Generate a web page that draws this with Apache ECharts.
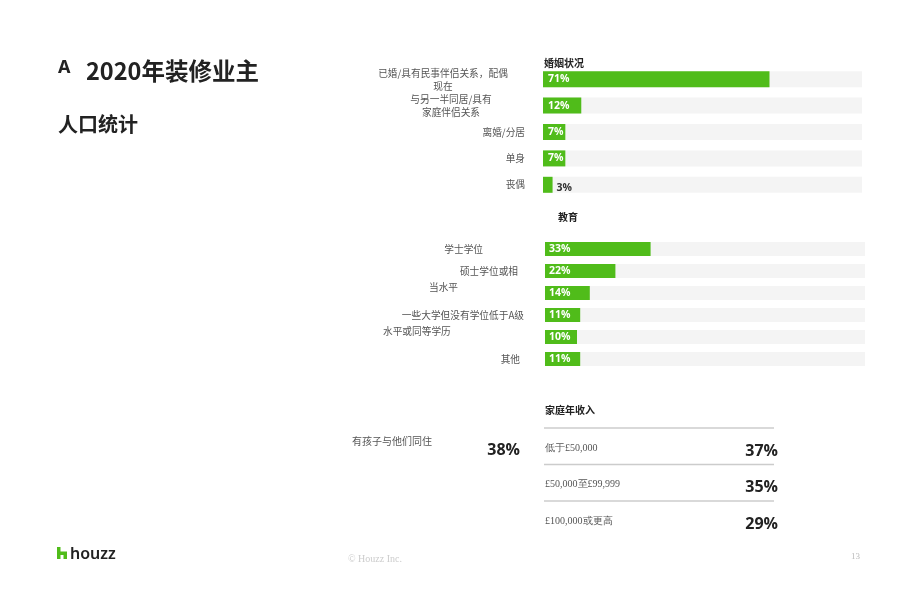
<!DOCTYPE html>
<html>
<head>
<meta charset="utf-8">
<script src="https://cdn.jsdelivr.net/npm/echarts@6/dist/echarts.min.js"></script>
<style>
  html, body { margin: 0; padding: 0; background: #fff; }
  #main { width: 920px; height: 596px; }
</style>
</head>
<body>
<div id="main"></div>
<script>
// 数据
var maritalCats = ['已婚/具有民事伴侣关系，配偶\n现在', '与另一半同居/具有\n家庭伴侣关系', '离婚/分居', '单身', '丧偶'];
var maritalVals = [71, 12, 7, 7, 3];
var eduCats = ['学士学位', '硕士学位或相\n当水平', '', '一些大学但没有学位低于A级\n水平或同等学历', '', '其他'];
var eduVals = [33, 22, 14, 11, 10, 11];
var incomeCats = ['低于£50,000', '£50,000至£99,999', '£100,000或更高'];
var incomeVals = [37, 35, 29];
var kidsLabel = '有孩子与他们同住';
var kidsVal = 38;

// 标签位置（每行: x, 相对行中心的dy, 对齐方式）
var maritalLabelPos = [
  [[443, -5.5, 'center'], [443, 7.5, 'center']],
  [[451, -6, 'center'], [451, 6.5, 'center']],
  [[525, 0, 'right']],
  [[525, 0, 'right']],
  [[525, 0, 'right']]
];
var eduLabelPos = [
  [[483, 0, 'right']],
  [[518, 0, 'right'], [429, 16, 'left']],
  [],
  [[524, 0, 'right'], [383, 16, 'left']],
  [],
  [[520, 0, 'right']]
];

var green = '#50bc1a';
var cjk = '"Noto Sans CJK SC", "Noto Sans", sans-serif';
var serif = '"Liberation Serif", "DejaVu Serif", serif';

var chart = echarts.init(document.getElementById('main'));

function barLabel(v) {
  if (v < 5) {
    return { value: v, label: { position: 'right', color: '#333', distance: 4, offset: [0, 3] } };
  }
  return v;
}

var option = {
  animation: false,
  grid: [
    { left: 543, top: 66, width: 319, height: 132 },
    { left: 545, top: 238, width: 320, height: 132 }
  ],
  xAxis: [
    { gridIndex: 0, type: 'value', min: 0, max: 100, show: false },
    { gridIndex: 1, type: 'value', min: 0, max: 100, show: false }
  ],
  yAxis: [
    { gridIndex: 0, type: 'category', inverse: true, data: maritalCats, show: false },
    { gridIndex: 1, type: 'category', inverse: true, data: eduCats, show: false }
  ],
  series: [
    {
      name: '婚姻状况',
      type: 'bar',
      xAxisIndex: 0,
      yAxisIndex: 0,
      barWidth: 16,
      showBackground: true,
      backgroundStyle: { color: '#f4f4f4' },
      itemStyle: { color: green },
      label: {
        show: true, position: 'insideLeft', distance: 5, formatter: '{c}%',
        color: '#fff', fontWeight: 'bold', fontSize: 10.5, fontFamily: '"Open Sans", sans-serif'
      },
      data: maritalVals.map(barLabel)
    },
    {
      name: '教育',
      type: 'bar',
      xAxisIndex: 1,
      yAxisIndex: 1,
      barWidth: 14,
      showBackground: true,
      backgroundStyle: { color: '#f4f4f4' },
      itemStyle: { color: green },
      label: {
        show: true, position: 'insideLeft', distance: 4, formatter: '{c}%',
        color: '#fff', fontWeight: 'bold', fontSize: 10.5, fontFamily: '"Open Sans", sans-serif'
      },
      data: eduVals.map(barLabel)
    }
  ]
};
chart.setOption(option);

// 图形元素
var g = [];
function txt(x, y, text, style) {
  g.push({
    type: 'text', x: x, y: y, silent: true,
    style: Object.assign({ text: text, verticalAlign: 'middle', fill: '#555', fontSize: 10, fontFamily: cjk }, style || {})
  });
}

// 标题
txt(58, 68, 'A', { fontSize: 18, fontWeight: 'bold', fill: '#222', fontFamily: '"Noto Sans", sans-serif' });
txt(86, 71, '2020年装修业主', { fontSize: 23.5, fontWeight: 'bold', fill: '#222' });
txt(58, 124, '人口统计', { fontSize: 20, fontWeight: 'bold', fill: '#222' });

// 小标题
txt(544, 63, '婚姻状况', { fontWeight: 'bold', fill: '#222' });
txt(558, 217, '教育', { fontWeight: 'bold', fill: '#222' });
txt(545, 410, '家庭年收入', { fontWeight: 'bold', fill: '#222' });

// 类别标签
function catLabels(cats, pos, axisIdx) {
  cats.forEach(function (c, i) {
    var yc = chart.convertToPixel({ yAxisIndex: axisIdx }, i);
    var lines = c.split('\n');
    pos[i].forEach(function (p, j) {
      if (lines[j]) txt(p[0], yc + p[1], lines[j], { align: p[2], fontSize: 9.7 });
    });
  });
}
catLabels(maritalCats, maritalLabelPos, 0);
catLabels(eduCats, eduLabelPos, 1);

// 有孩子
txt(352, 441, kidsLabel, { fill: '#555' });
txt(520, 450, kidsVal + '%', { align: 'right', fontSize: 16, fontWeight: 'bold', fill: '#222', fontFamily: '"Open Sans", sans-serif' });

// 家庭年收入
incomeCats.forEach(function (c, i) {
  var top = 428 + i * 36.5;
  g.push({ type: 'line', silent: true, shape: { x1: 544, y1: top, x2: 774, y2: top }, style: { stroke: '#cccccc', lineWidth: 1.5 } });
  txt(545, top + 20, c, { fontFamily: serif, fill: '#555', fontSize: 10 });
  txt(778, top + 23, incomeVals[i] + '%', { align: 'right', fontSize: 16, fontWeight: 'bold', fill: '#222', fontFamily: '"Open Sans", sans-serif' });
});

// 页脚
g.push({
  type: 'polygon', silent: true, x: 57, y: 547,
  shape: { points: [[0, 0], [3.5, 0], [3.5, 4.5], [10, 4.5], [10, 12], [6.5, 12], [6.5, 8], [3.5, 8], [3.5, 12], [0, 12]] },
  style: { fill: green }
});
txt(70, 554, 'houzz', { fontSize: 16, fontWeight: 600, fill: '#222', fontFamily: '"Noto Sans", sans-serif' });
txt(348, 559, '© Houzz Inc.', { fontFamily: serif, fill: '#cccccc', fontSize: 10 });
txt(851, 557, '13', { fontFamily: serif, fill: '#bbbbbb', fontSize: 9 });

chart.setOption({ graphic: g });
</script>
</body>
</html>
